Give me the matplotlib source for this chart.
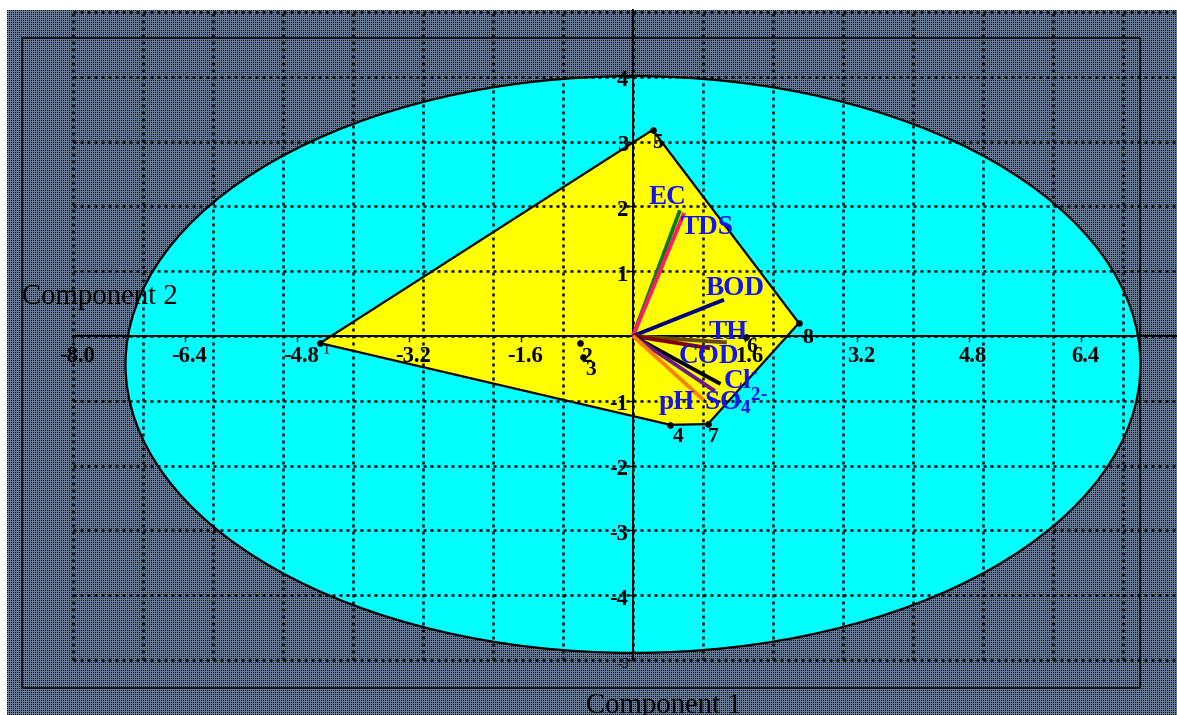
import numpy as np
import matplotlib
matplotlib.use('Agg')
import matplotlib.pyplot as plt
from matplotlib.patches import Ellipse, Polygon, Rectangle
from matplotlib.transforms import offset_copy

plt.rcParams['font.family'] = ['Liberation Serif', 'DejaVu Serif']
plt.rcParams['mathtext.fontset'] = 'custom'
plt.rcParams['mathtext.rm'] = 'Liberation Serif:bold'
plt.rcParams['mathtext.bf'] = 'Liberation Serif:bold'
plt.rcParams['mathtext.it'] = 'Liberation Serif:bold'
plt.rcParams['mathtext.default'] = 'bf'

# ---------------- data ----------------
variables = ['EC', 'TDS', 'BOD', 'TH', 'COD', 'Cl', 'SO4', 'pH']
var_labels = ['EC', 'TDS', 'BOD', 'TH', 'COD', r'Cl$^{\text{-}}$',
              r'SO$_{4}$$^{2\text{-}}$', 'pH']
load_x = [0.67, 0.73, 1.30, 1.34, 1.10, 1.25, 1.17, 1.01]
load_y = [1.94, 1.90, 0.56, -0.10, -0.19, -0.74, -0.85, -0.99]
var_colors = ['#0a7a0a', '#ff1a66', '#000080', '#6b4800', '#800000',
              '#000000', '#6a1a8a', '#ff8000']

sample_ids = ['1', '2', '3', '4', '5', '6', '7', '8']
score_x = [-4.47, -0.76, -0.72, 0.53, 0.28, 1.61, 1.07, 2.37]
score_y = [-0.11, -0.11, -0.32, -1.37, 3.18, -0.01, -1.36, 0.20]

x_ticks = [-8.0, -6.4, -4.8, -3.2, -1.6, 1.6, 3.2, 4.8, 6.4]
y_ticks = [4, 3, 2, 1, -1, -2, -3, -4, -5]

ellipse_center = (0.0, -0.44)
ellipse_width = 14.5
ellipse_height = 8.9

# ---------------- layout ----------------
W, H = 1177, 715
PX_X, PX_Y = 70.0, 64.8       # pixels per unit
OX, OY = 633.0, 336.0         # pixel of origin (from top-left)


def dx(px):
    return (px - OX) / PX_X


def dy(py):
    return (OY - py) / PX_Y


fig = plt.figure(figsize=(W / 100, H / 100), dpi=100)
fig.patch.set_facecolor('white')

# textured grey background
th, tw = H - 10, W - 7
ii, jj = np.mgrid[0:th, 0:tw]
img = np.empty((th, tw, 3))
img[:] = np.array([108, 124, 126]) / 255
img[(ii % 2 == 0) & (jj % 2 == 0)] = np.array([15, 15, 20]) / 255
img[(ii % 4 == 1) & (jj % 4 == 1)] = np.array([88, 118, 210]) / 255
img[(ii % 4 == 3) & (jj % 4 == 3)] = np.array([88, 118, 210]) / 255
fig.figimage(img, xo=7, yo=0, origin='upper', zorder=-5)

ax = fig.add_axes([0, 0, 1, 1])
ax.patch.set_visible(False)
ax.set_xlim(dx(0), dx(W))
ax.set_ylim(dy(H), dy(0))
ax.axis('off')

# frame
ax.add_patch(Rectangle((dx(22), dy(688)), dx(1140) - dx(22), dy(37.7) - dy(688),
                       fill=False, ec='black', lw=1.1, zorder=1))

# ellipse
ax.add_patch(Ellipse(ellipse_center, ellipse_width, ellipse_height,
                     fc='#00ffff', ec='black', lw=1.6, zorder=2))


# convex hull of sample scores
def hull(xs, ys):
    pts = sorted(zip(xs, ys))

    def cross(o, a, b):
        return (a[0] - o[0]) * (b[1] - o[1]) - (a[1] - o[1]) * (b[0] - o[0])
    lower, upper = [], []
    for p in pts:
        while len(lower) >= 2 and cross(lower[-2], lower[-1], p) <= 0:
            lower.pop()
        lower.append(p)
    for p in reversed(pts):
        while len(upper) >= 2 and cross(upper[-2], upper[-1], p) <= 0:
            upper.pop()
        upper.append(p)
    return lower[:-1] + upper[:-1]


ax.add_patch(Polygon(hull(score_x, score_y), closed=True, fc='#ffff00',
                     ec='black', lw=1.6, zorder=3))

# dotted grid
grid_kw = dict(color='black', lw=1.8, linestyle=(0, (1.2, 1.6)),
               solid_capstyle='butt', dash_capstyle='butt', zorder=4)
for gx in range(-8, 8):
    ax.plot([gx, gx], [-5, dy(10)], **grid_kw)
for gy in range(-5, 6):
    ax.plot([-8, dx(W)], [gy, gy], **grid_kw)

# axes lines
ax.plot([-8, dx(W)], [0, 0], color='black', lw=1.4, zorder=4.5)
ax.plot([0, 0], [-5, dy(10)], color='black', lw=1.4, zorder=4.5)
for t in x_ticks:
    ax.plot([t, t], [0, -5 / PX_Y], color='black', lw=1.0, zorder=4.5)
for t in y_ticks:
    ax.plot([0, -5 / PX_X], [t, t], color='black', lw=1.0, zorder=4.5)


def off(x, y):
    return offset_copy(ax.transData, fig=fig, x=x, y=y, units='dots')


# tick labels
for t in x_ticks:
    ax.text(t, 0, f'{t:.1f}', transform=off(4, -21), ha='center', va='center',
            fontsize=16.3, fontweight='bold', zorder=7)
for t in y_ticks:
    if t == -5:
        ax.text(0, t, f'{t}', transform=off(-4, -4), ha='right', va='center',
                fontsize=10, zorder=7)
    else:
        ax.text(0, t, f'{t}', transform=off(-5, -4), ha='right', va='center',
                fontsize=16.3, fontweight='bold', zorder=7)

# loading vectors
for lx, ly, c in zip(load_x, load_y, var_colors):
    ax.plot([0, lx], [0, ly], color=c, lw=2.8, solid_capstyle='butt', zorder=5)

label_offsets = [(-13, 13), (23, -15), (11, 11), (1, 10), (-1, -8),
                 (20, 2), (21, -10), (-27, -2)]
for lx, ly, lab, (ox, oy) in zip(load_x, load_y, var_labels, label_offsets):
    ax.text(lx, ly, lab, transform=off(ox, oy), ha='center', va='center',
            fontsize=19.5, fontweight='bold', color='#1414f0', zorder=6)

# sample scores
ax.plot(score_x, score_y, 'o', color='black', ms=3.8, zorder=6)
pt_offsets = [(6, -7), (7, -14), (8, -13), (8, -12), (5, -13), (6, -10),
              (5, -13), (9, -15)]
for sx, sy, sid, (ox, oy) in zip(score_x, score_y, sample_ids, pt_offsets):
    if sid == '1':
        ax.text(sx, sy, sid, transform=off(ox, oy), ha='center', va='center',
                fontsize=10, zorder=7)
    else:
        ax.text(sx, sy, sid, transform=off(ox, oy), ha='center', va='center',
                fontsize=15.5, fontweight='bold', zorder=7)

# axis titles
ax.text(dx(22), dy(297), 'Component 2', ha='left', va='center', fontsize=20.7,
        zorder=7)
ax.text(dx(664), dy(713), 'Component 1', ha='center', va='baseline',
        fontsize=20.7, zorder=7)

fig.savefig('out.png', dpi=100)
